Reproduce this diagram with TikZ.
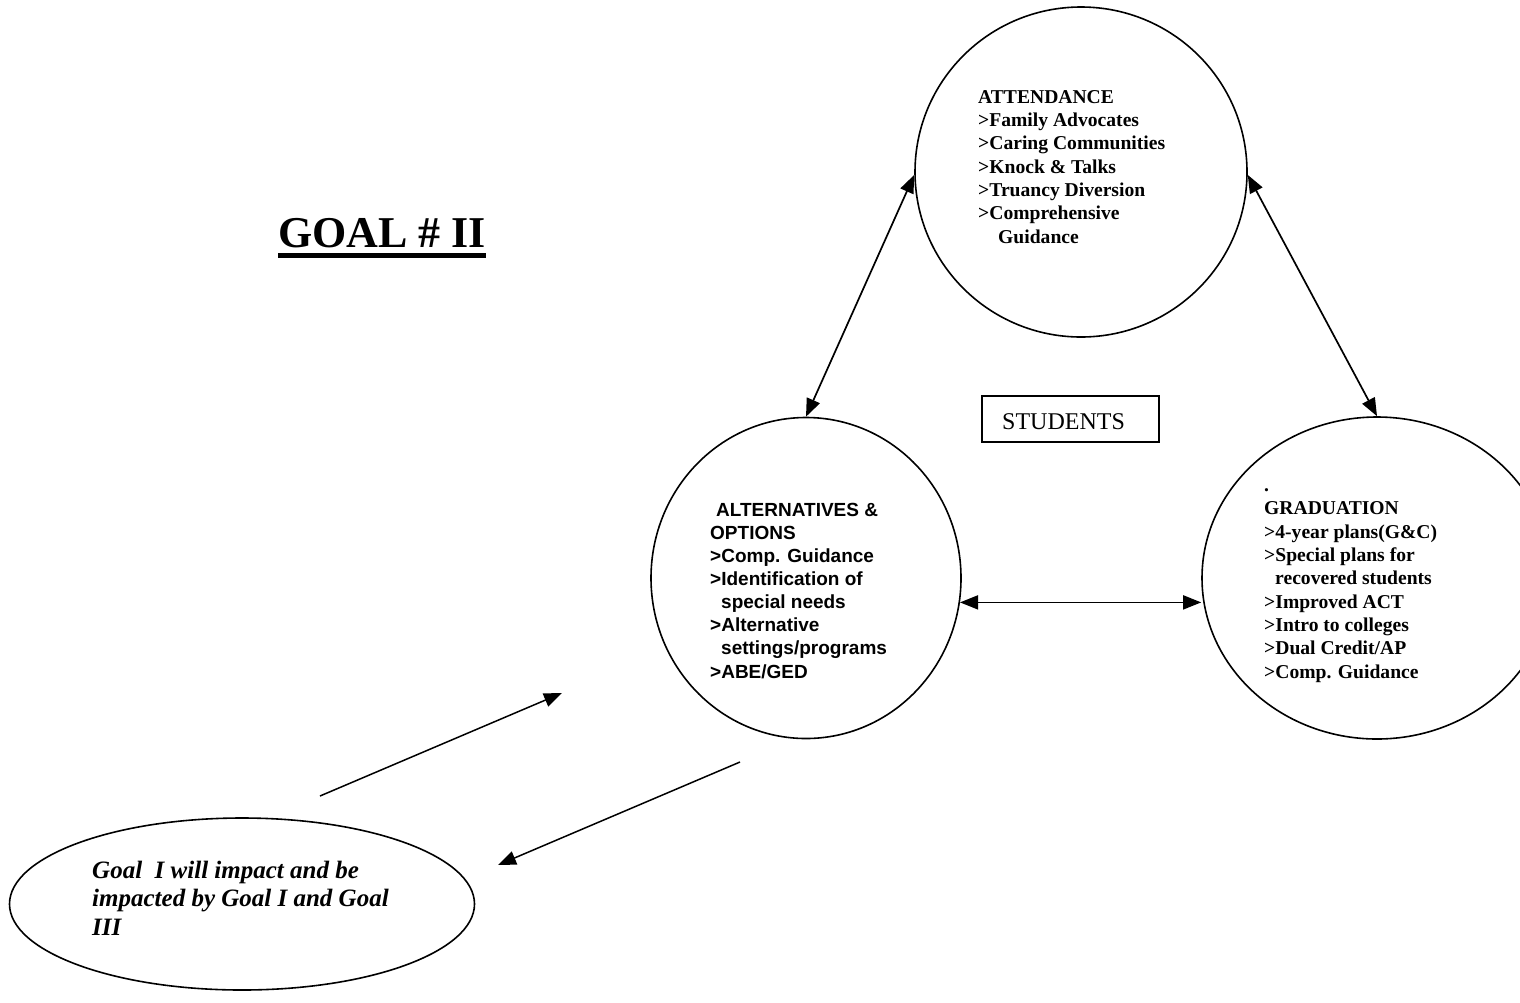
\documentclass[tikz,border=0pt]{standalone}
\usepackage{fontspec}
\setmainfont{Liberation Serif}
\newfontfamily\arialf{Liberation Sans}
\usetikzlibrary{shapes.geometric,arrows.meta}
\begin{document}
\begin{tikzpicture}[x=1pt,y=-1pt,
  bubble/.style={draw,ellipse,line width=1.6pt,inner sep=0},
  link/.style={line width=1.7pt,{Triangle[length=18pt,width=14pt]}-{Triangle[length=18pt,width=14pt]}},
  oneway/.style={line width=1.5pt,-{Triangle[length=18pt,width=14pt]}},
  txt/.style={anchor=base west,inner sep=0,align=left},
  listtext/.style={txt,font=\fontsize{19.6}{23.3}\selectfont\bfseries},
  altlist/.style={txt,font=\arialf\fontsize{19}{23.1}\selectfont\bfseries}
]
\useasboundingbox (0,0) rectangle (1520,1002);

% title
\node[txt,font=\fontsize{44}{50}\selectfont\bfseries] (title) at (278,247) {GOAL \# II};
\draw[line width=5pt] ([yshift=-8]title.base west) -- ([yshift=-8]title.base east);

% bubbles
\node[bubble,minimum width=332pt,minimum height=330pt] (att) at (1081,172) {};
\node[bubble,minimum width=310pt,minimum height=321pt] (alt) at (806,578) {};
\node[bubble,minimum width=350pt,minimum height=322pt] (grad) at (1377,578) {};
\node[bubble,minimum width=465pt,minimum height=172pt] (goal) at (242,904) {};

% texts (base anchor = last line)
\node[listtext] (atttext) at (978,243) {ATTENDANCE\\>Family Advocates\\>Caring Communities\\>Knock \& Talks\\>Truancy Diversion\\>Comprehensive\\\hspace*{20pt}Guidance};
\node[altlist] (alttext) at (710,678) {\hspace*{6pt}ALTERNATIVES \&\\OPTIONS\\>Comp. Guidance\\>Identification of\\\hspace*{11pt}special needs\\>Alternative\\\hspace*{11pt}settings/programs\\>ABE/GED};
\node[listtext] (gradtext) at (1264,678) {.\\GRADUATION\\>4-year plans(G\&C)\\>Special plans for\\\hspace*{11pt}recovered students\\>Improved ACT\\>Intro to colleges\\>Dual Credit/AP\\>Comp. Guidance};
\node[txt,font=\fontsize{25}{28.5}\selectfont\bfseries\itshape] (goaltext) at (92,935) {Goal\ \ I will impact and be\\impacted by Goal I and Goal\\III};

% students box
\node[draw,line width=1.3pt,minimum width=177pt,minimum height=46pt,inner sep=0] (students) at (1070.5,419) {};
\node[txt,font=\fontsize{24}{28}\selectfont] (studtext) at (1002,429) {STUDENTS};

% connectors
\draw[link] (att.181.5) -- (alt.90);
\draw[link] (att.-1.5) -- (grad.90);
\draw[link] (alt.-9) -- (alt.-9 -| grad.west);

\coordinate (up1) at (320,796);
\coordinate (up2) at (562,693);
\coordinate (dn1) at (740,762);
\coordinate (dn2) at (498,865);
\draw[oneway] (up1) -- (up2);
\draw[oneway] (dn1) -- (dn2);
\end{tikzpicture}
\end{document}
